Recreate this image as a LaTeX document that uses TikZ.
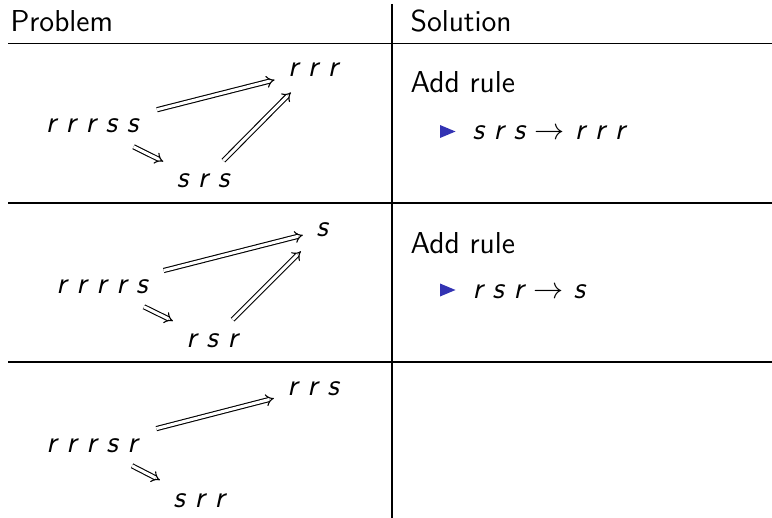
\documentclass[tikz,border=0pt]{standalone}
\usepackage{fontspec}
\usetikzlibrary{arrows.meta}
\definecolor{beamerblue}{RGB}{51,51,179}
\tikzset{
  txt/.style={font=\fontsize{11}{13}\selectfont\sffamily, inner sep=0pt},
  word/.style={font=\fontsize{11}{13}\selectfont\sffamily\itshape, inner sep=4.7pt, anchor=base},
  rw/.style={-{Implies[scale=1.5]}, double, double distance=1.1pt, line width=0.4pt},
  rule/.style={line width=0.45pt},
  bullet/.style={fill=beamerblue}
}
\begin{document}
\begin{tikzpicture}[x=0.3636pt, y=-0.3636pt]
\useasboundingbox (0,0) rectangle (772,518);
% table lines
\coordinate (vt) at (392,4);
\coordinate (vb) at (392,518);
\draw[rule] (vt) -- (vb);
\coordinate (h1l) at (8,43.5); \coordinate (h1r) at (772,43.5);
\coordinate (h2l) at (8,203); \coordinate (h2r) at (772,203);
\coordinate (h3l) at (8,362); \coordinate (h3r) at (772,362);
\draw[rule] (h1l) -- (h1r);
\draw[rule] (h2l) -- (h2r);
\draw[rule] (h3l) -- (h3r);
% headers
\node[txt, anchor=base west] (hp) at (10,32) {Problem};
\node[txt, anchor=base west] (hs) at (410,32) {Solution};
% row 1
\node[word] (a1) at (92,133) {r r r s s};
\node[word] (b1) at (313,77) {r r r};
\node[word] (c1) at (203,188) {s r s};
\draw[rw, shorten <=2pt] (a1) -- (b1);
\draw[rw] (a1) -- (c1);
\draw[rw, shorten >=1pt] (c1) -- (b1);
% row 2
\node[word] (a2) at (102,293) {r r r r s};
\node[word] (b2) at (322,237) {s};
\node[word] (c2) at (212,347) {r s r};
\draw[rw, shorten <=1pt] (a2) -- (b2);
\draw[rw] (a2) -- (c2);
\draw[rw, shorten >=1pt] (c2) -- (b2);
% row 3
\node[word] (a3) at (92,452) {r r r s r};
\node[word] (b3) at (313,395) {r r s};
\node[word] (c3) at (199,507) {s r r};
\draw[rw, shorten <=2pt] (a3) -- (b3);
\draw[rw] (a3) -- (c3);
% solutions
\node[txt, anchor=base west] (s1) at (410,93) {Add rule};
\fill[bullet] (440,125) -- (455.5,131.5) -- (440,138) -- cycle;
\node[txt, anchor=base west] (r1) at (472,140) {\itshape s r s \upshape$\rightarrow$ \itshape r r r};
\node[txt, anchor=base west] (s2) at (410,253) {Add rule};
\fill[bullet] (440,283.5) -- (455.5,290) -- (440,296.5) -- cycle;
\node[txt, anchor=base west] (r2) at (472,298) {\itshape r s r \upshape$\rightarrow$ \itshape s};
\end{tikzpicture}
\end{document}
